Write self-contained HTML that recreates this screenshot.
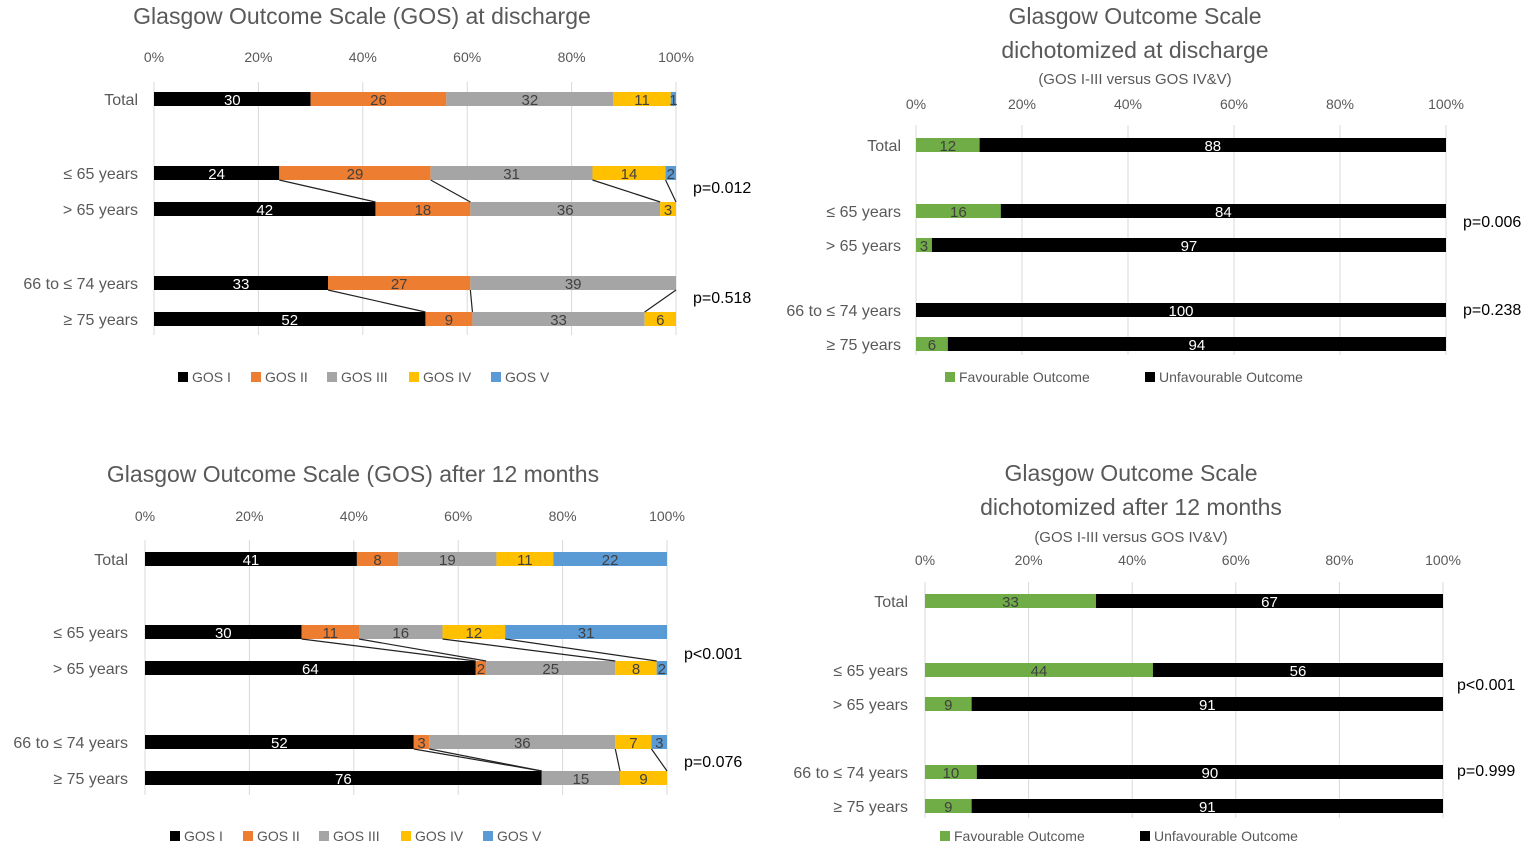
<!DOCTYPE html>
<html><head><meta charset="utf-8"><style>
html,body{margin:0;padding:0;background:#fff;}
svg{display:block;font-family:"Liberation Sans",sans-serif;}
</style></head><body>
<svg id="s" width="1535" height="847" viewBox="0 0 1535 847"></svg>
<script>
const categories = ["Total","\u2264 65 years","> 65 years","66 to \u2264 74 years","\u2265 75 years"];
const gosSeries = ["GOS I","GOS II","GOS III","GOS IV","GOS V"];
const dichoSeries = ["Favourable Outcome","Unfavourable Outcome"];
const tickLabels = ["0%","20%","40%","60%","80%","100%"];
const gosDischarge = [[30,26,32,11,1],[24,29,31,14,2],[42,18,36,3,0],[33,27,39,0,0],[52,9,33,6,0]];
const gos12m = [[41,8,19,11,22],[30,11,16,12,31],[64,2,25,8,2],[52,3,36,7,3],[76,0,15,9,0]];
const dichoDischarge = [[12,88],[16,84],[3,97],[0,100],[6,94]];
const dicho12m = [[33,67],[44,56],[9,91],[10,90],[9,91]];
const pDischarge = ["p=0.012","p=0.518"];
const p12m = ["p<0.001","p=0.076"];
const pDichoDischarge = ["p=0.006","p=0.238"];
const pDicho12m = ["p<0.001","p=0.999"];

const gosColors = ["#000000","#ED7D31","#A5A5A5","#FFC000","#5B9BD5"];
const dichoColors = ["#70AD47","#000000"];
const NS="http://www.w3.org/2000/svg";
const svg=document.getElementById('s');
function el(tag,attrs,parent,text){const e=document.createElementNS(NS,tag);for(const k in attrs)e.setAttribute(k,attrs[k]);if(text!==undefined)e.textContent=text;(parent||svg).appendChild(e);return e;}

function chart(cfg){
  const g=el('g',{});
  
  
  const x=v=>cfg.x0+(cfg.x1-cfg.x0)*v/100;
  cfg.title.forEach((t,i)=>{
    const tt=el('text',{x:cfg.tx,y:t.y,'text-anchor':'middle','font-size':t.fs,fill:'#595959'},g,t.s);
    
    
  });
  tickLabels.forEach((t,i)=>{
    const v=i*20;
    const gl=el('line',{x1:x(v),x2:x(v),y1:cfg.gy0,y2:cfg.gy1,stroke:'#d9d9d9','stroke-width':1},g);
    
    
    const tl=el('text',{x:x(v),y:cfg.ticky+5,'text-anchor':'middle','font-size':14,fill:'#595959'},g,t);
    
    
  });
  const h=14;
  const cums=[];
  cfg.data.forEach((row,ri)=>{
    const yc=cfg.ys[ri];
    const sum=row.reduce((a,b)=>a+b,0);
    let c=0;const cum=[];
    const cl=el('text',{x:cfg.labx,y:yc+6,'text-anchor':'end','font-size':16,fill:'#595959'},g,categories[ri]);
    
    
    row.forEach((v,si)=>{
      const a=c/sum*100;c+=v;const b=c/sum*100;cum.push(b);
      if(v<=0)return;
      const r=el('rect',{x:x(a),y:yc-h/2,width:x(b)-x(a),height:h,fill:cfg.colors[si]},g);
      
      
      const lt=el('text',{x:(x(a)+x(b))/2,y:yc+6,'text-anchor':'middle','font-size':15,fill:cfg.colors[si]==='#000000'?'#ffffff':'#404040'},g,String(v));
      
      
    });
    cums.push(cum);
  });
  if(cfg.connect){
    [[1,2],[3,4]].forEach(([p,q])=>{
      const n=cfg.data[p].length;
      for(let i=0;i<n-1;i++){
        const a=cums[p][i],b=cums[q][i];
        if(a>=99.9&&b>=99.9)continue;
        const ln=el('line',{x1:x(a),y1:cfg.ys[p]+h/2,x2:x(b),y2:cfg.ys[q]-h/2,stroke:'#222','stroke-width':1.2},g);
        
        
      }
    });
  }
  cfg.p.forEach((t,i)=>{
    const pt=el('text',{x:cfg.px,y:cfg.py[i]+6,'font-size':16,fill:'#000'},g,t);
    
    
  });
  let lx=cfg.legx;
  cfg.series.forEach((s,i)=>{
    const lr=el('rect',{x:lx,y:cfg.legy-5,width:10,height:10,fill:cfg.colors[i]},g);
    
    
    const lt=el('text',{x:lx+14,y:cfg.legy+5,'font-size':14,fill:'#595959'},g,s);
    
    
    lx+=cfg.legstep[i];
  });
}
chart({name:'gos-discharge-chart',x0:154,x1:676,tx:362,title:[{s:'Glasgow Outcome Scale (GOS) at discharge',y:24,fs:23}],ticky:57,gy0:82,gy1:335,
  ys:[99,173,209,283,319],labx:138,data:gosDischarge,colors:gosColors,connect:true,p:pDischarge,px:693,py:[187,297],
  legx:178,legy:377,series:gosSeries,legstep:[73,76,82,82,80]});
chart({name:'gos-12m-chart',x0:145,x1:667,tx:353,title:[{s:'Glasgow Outcome Scale (GOS) after 12 months',y:482,fs:23}],ticky:516,gy0:540,gy1:795,
  ys:[559,632,668,742,778],labx:128,data:gos12m,colors:gosColors,connect:true,p:p12m,px:684,py:[653,761],
  legx:170,legy:836,series:gosSeries,legstep:[73,76,82,82,80]});
chart({name:'dicho-discharge-chart',x0:916,x1:1446,tx:1135,title:[{s:'Glasgow Outcome Scale',y:24,fs:23},{s:'dichotomized at discharge',y:58,fs:23},{s:'(GOS I-III versus GOS IV&V)',y:84,fs:15}],ticky:104,gy0:125,gy1:355,
  ys:[145,211,245,310,344],labx:901,data:dichoDischarge,colors:dichoColors,connect:false,p:pDichoDischarge,px:1463,py:[221,309],
  legx:945,legy:377,series:dichoSeries,legstep:[200,200]});
chart({name:'dicho-12m-chart',x0:925,x1:1443,tx:1131,title:[{s:'Glasgow Outcome Scale',y:481,fs:23},{s:'dichotomized after 12 months',y:515,fs:23},{s:'(GOS I-III versus GOS IV&V)',y:542,fs:15}],ticky:560,gy0:582,gy1:818,
  ys:[601,670,704,772,806],labx:908,data:dicho12m,colors:dichoColors,connect:false,p:pDicho12m,px:1457,py:[684,770],
  legx:940,legy:836,series:dichoSeries,legstep:[200,200]});
</script>
</body></html>
